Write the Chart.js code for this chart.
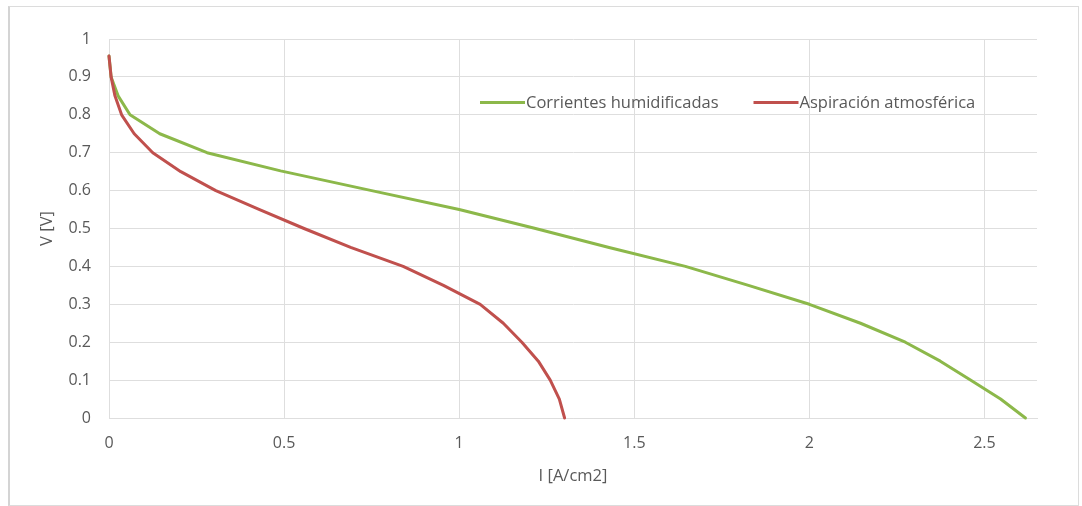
<!DOCTYPE html>
<html>
<head>
<meta charset="utf-8">
<script src="https://cdn.jsdelivr.net/npm/chart.js@4/dist/chart.umd.min.js"></script>
<style>
  html, body { margin: 0; padding: 0; background: #fff; }
  #wrap { position: relative; width: 1082px; height: 506px; }
  #frame {
    position: absolute; left: 8px; top: 6px; width: 1071px; height: 500px;
    border: 1px solid #dcdcdc; border-left: 2px solid #d4d4d4;
    box-sizing: border-box; pointer-events: none;
  }
  canvas { position: absolute; left: 0; top: 0; }
</style>
</head>
<body>
<div id="wrap">
  <canvas id="chart" width="1082" height="506"></canvas>
  <div id="frame"></div>
</div>
<script>
// Polarisation curves: current density I [A/cm2] vs cell voltage V [V]
const seriesNames = ['Corrientes humidificadas', 'Aspiración atmosférica'];
const seriesColors = ['#8cb84a', '#c0504d'];

const humidI = [0, 0.006, 0.026, 0.06, 0.145, 0.28, 0.49, 0.75, 1.0, 1.218, 1.428, 1.646, 1.826, 2.0, 2.146, 2.274, 2.374, 2.46, 2.546, 2.617];
const humidV = [0.955, 0.9, 0.85, 0.8, 0.75, 0.7, 0.652, 0.6, 0.55, 0.5, 0.45, 0.4, 0.35, 0.3, 0.25, 0.2, 0.15, 0.1, 0.05, 0];

const atmI = [0, 0.006, 0.017, 0.036, 0.072, 0.125, 0.205, 0.305, 0.43, 0.557, 0.69, 0.84, 0.955, 1.06, 1.126, 1.179, 1.226, 1.26, 1.286, 1.301];
const atmV = [0.955, 0.9, 0.85, 0.8, 0.75, 0.7, 0.65, 0.6, 0.55, 0.5, 0.45, 0.4, 0.35, 0.3, 0.25, 0.2, 0.15, 0.1, 0.05, 0];

const xTickLabels = ['0', '0.5', '1', '1.5', '2', '2.5'];
const yTickLabels = ['0', '0.1', '0.2', '0.3', '0.4', '0.5', '0.6', '0.7', '0.8', '0.9', '1'];
const xTitle = 'I [A/cm2]';
const yTitle = 'V [V]';

const FONT = "'Open Sans', 'Noto Sans', sans-serif";
const TEXT = '#595959';
const GRID = '#dedede';

function toPoints(xs, ys) {
  return xs.map((x, i) => ({ x: x, y: ys[i] }));
}

function tickText(labels, step) {
  return function (value) {
    const idx = Math.round(value / step);
    return labels[idx] !== undefined ? labels[idx] : '';
  };
}

// Legend drawn inside the plot area, line sample touching its label
const insideLegend = {
  id: 'insideLegend',
  afterDraw(chart) {
    const ctx = chart.ctx;
    const y = 102.5;
    let x = 480;
    ctx.save();
    ctx.font = "16.5px " + FONT;
    ctx.textBaseline = 'middle';
    ctx.textAlign = 'left';
    chart.data.datasets.forEach((ds) => {
      ctx.strokeStyle = ds.borderColor;
      ctx.lineWidth = 3;
      ctx.beginPath();
      ctx.moveTo(x, y);
      ctx.lineTo(x + 45, y);
      ctx.stroke();
      ctx.fillStyle = TEXT;
      ctx.fillText(ds.label, x + 46, y + 1);
      x += 46 + ctx.measureText(ds.label).width + 35;
    });
    ctx.restore();
  }
};

new Chart(document.getElementById('chart'), {
  type: 'scatter',
  data: {
    datasets: [
      {
        label: seriesNames[0],
        data: toPoints(humidI, humidV),
        borderColor: seriesColors[0],
        backgroundColor: seriesColors[0],
        order: 1
      },
      {
        label: seriesNames[1],
        data: toPoints(atmI, atmV),
        borderColor: seriesColors[1],
        backgroundColor: seriesColors[1],
        order: 0
      }
    ]
  },
  options: {
    responsive: false,
    animation: false,
    devicePixelRatio: 1,
    layout: { padding: { left: 30, top: 39, right: 45, bottom: 20 } },
    datasets: {
      scatter: {
        showLine: true,
        pointRadius: 0,
        pointHoverRadius: 0,
        borderWidth: 3,
        borderJoinStyle: 'round',
        borderCapStyle: 'round',
        tension: 0,
        clip: 4
      }
    },
    plugins: {
      legend: { display: false },
      tooltip: { enabled: false }
    },
    scales: {
      x: {
        type: 'linear',
        min: 0,
        max: 2.65,
        afterFit(scale) { scale.height = 68; },
        ticks: {
          stepSize: 0.5,
          includeBounds: false,
          padding: 16,
          color: TEXT,
          font: { family: FONT, size: 16 },
          callback: tickText(xTickLabels, 0.5),
          maxRotation: 0
        },
        grid: { color: GRID, lineWidth: 1, drawTicks: false },
        border: { color: GRID, width: 1 },
        title: {
          display: true,
          text: xTitle,
          color: TEXT,
          font: { family: FONT, size: 16.5 },
          padding: { top: 0, bottom: 0 }
        }
      },
      y: {
        type: 'linear',
        min: 0,
        max: 1,
        afterFit(scale) { scale.width = 79; },
        ticks: {
          stepSize: 0.1,
          padding: 18,
          color: TEXT,
          font: { family: FONT, size: 16 },
          callback: tickText(yTickLabels, 0.1)
        },
        grid: { color: GRID, lineWidth: 1, drawTicks: false },
        border: { color: GRID, width: 1 },
        title: {
          display: true,
          text: yTitle,
          color: TEXT,
          font: { family: FONT, size: 16.5 },
          padding: { top: 7, bottom: 0 }
        }
      }
    }
  },
  plugins: [insideLegend]
});
</script>
</body>
</html>
